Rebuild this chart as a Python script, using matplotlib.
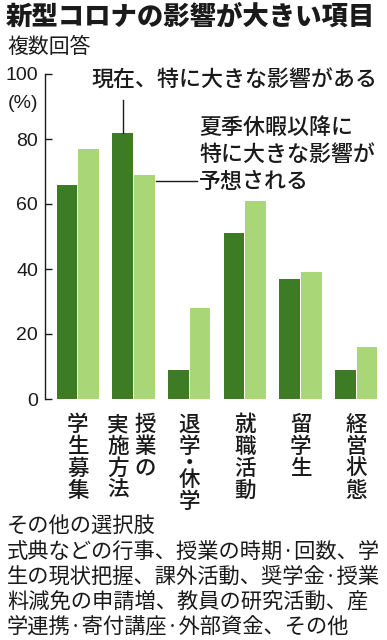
import matplotlib
matplotlib.use("Agg")
import matplotlib.pyplot as plt
from matplotlib import font_manager
import numpy as np
from matplotlib.transforms import blended_transform_factory

plt.rcParams["font.family"] = ["Noto Sans CJK JP", "DejaVu Sans"]

# --- data (percent, multiple answers) ---
categories = ["学生募集", "授業の実施方法", "退学・休学", "就職活動", "留学生", "経営状態"]
label_columns = [["学生募集"], ["実施方法", "授業の"], ["退学・休学"], ["就職活動"], ["留学生"], ["経営状態"]]
now_vals = [66, 82, 9, 51, 37, 9]        # 現在、特に大きな影響がある
later_vals = [77, 69, 28, 61, 39, 16]    # 夏季休暇以降に特に大きな影響が予想される
yticks = [0, 20, 40, 60, 80, 100]

title = "新型コロナの影響が大きい項目"
subtitle = "複数回答"
note_now = "現在、特に大きな影響がある"
note_later = ["夏季休暇以降に", "特に大きな影響が", "予想される"]
footer = [
    "その他の選択肢",
    "式典などの行事、授業の時期·回数、学",
    "生の現状把握、課外活動、奨学金·授業",
    "料減免の申請増、教員の研究活動、産",
    "学連携·寄付講座·外部資金、その他",
]

DARK = "#3d7b24"
LIGHT = "#a9d677"
INK = "#1a1a1a"

W, H = 387, 640

# narrow digits if available
try:
    font_manager.findfont("Liberation Sans Narrow", fallback_to_default=False)
    NUM_FONT, NUM_SIZE = ["Liberation Sans Narrow"], 16
except ValueError:
    NUM_FONT, NUM_SIZE = ["Liberation Sans"], 14


def fx(px):
    return px / W


def fy(py):
    return 1 - py / H


fig = plt.figure(figsize=(W / 100, H / 100), dpi=100)
fig.patch.set_facecolor("white")

ax = fig.add_axes([fx(45), fy(399), fx(380) - fx(45), fy(74) - fy(399)])
x = np.arange(len(categories))
ax.bar(x - 0.195, now_vals, 0.37, color=DARK)
ax.bar(x + 0.195, later_vals, 0.37, color=LIGHT)

ax.set_xlim(-0.589, 5.425)
ax.set_ylim(0, 100)
ax.set_yticks(yticks)
ax.set_yticklabels([str(v) for v in yticks], family=NUM_FONT)
ax.set_xticks([])
for side in ["top", "right", "bottom"]:
    ax.spines[side].set_visible(False)
ax.spines["left"].set_color(INK)
ax.spines["left"].set_linewidth(1.0)
ax.tick_params(axis="y", direction="in", length=5, width=1, color=INK,
               labelsize=NUM_SIZE, pad=5, labelcolor=INK)

# leader lines
ax.plot([1 - 0.195, 1 - 0.195], [82, 92], color=INK, lw=1, clip_on=False)
ax.plot([1.40, 2.14], [67, 67], color=INK, lw=1, clip_on=False)

# titles
fig.text(fx(6), fy(16), title, fontsize=19, fontweight="heavy", va="center", color=INK)
fig.text(fx(7), fy(47), subtitle, fontsize=15, va="center", color=INK)
fig.text(fx(23), fy(104), "(%)", fontsize=NUM_SIZE, ha="center", va="center", color=INK,
         family=NUM_FONT)

# annotations
fig.text(fx(91), fy(80), note_now, fontsize=15.8, fontweight="medium", va="center", color=INK)
for i, line in enumerate(note_later):
    fig.text(fx(199), fy(127 + i * 27), line, fontsize=15.8, fontweight="medium",
             va="center", color=INK)

# vertical category labels
tr = blended_transform_factory(ax.transData, fig.transFigure)
col_offsets = {1: [-0.28, 0.21]}
for i, cols in enumerate(label_columns):
    offs = col_offsets.get(i, [0.0] * len(cols))
    for col, off in zip(cols, offs):
        y = 425
        for j, ch in enumerate(col):
            if j > 0:
                y += 16.5 if (ch == "・" or col[j - 1] == "・") else 22
            fig.text(i + off, fy(y), ch, transform=tr, fontsize=15.5, fontweight="medium",
                     ha="center", va="center", color=INK)

# footer
for i, line in enumerate(footer):
    fig.text(fx(7), fy(527 + i * 25), line, fontsize=15.3, va="center", color=INK)

fig.savefig("out.png", dpi=100)
